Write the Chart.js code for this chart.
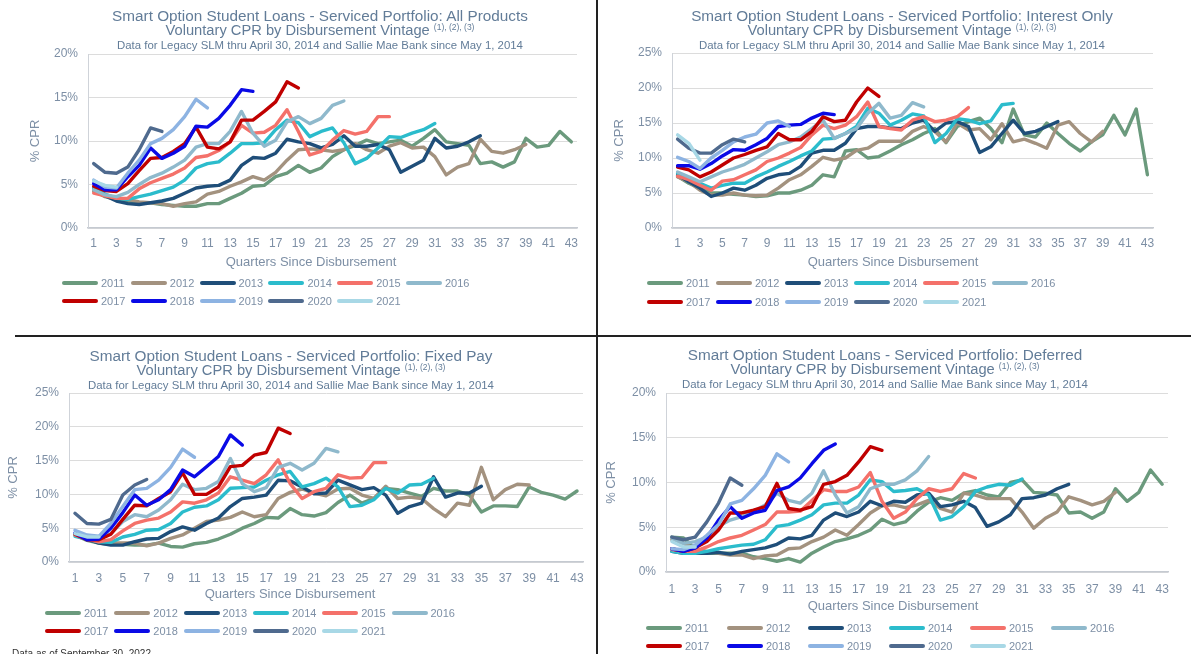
<!DOCTYPE html>
<html><head><meta charset="utf-8">
<script src="https://cdn.jsdelivr.net/npm/chart.js@4.4.1/dist/chart.umd.min.js"></script>
<style>
html,body{margin:0;padding:0;background:#fff;width:1191px;height:654px;overflow:hidden;position:relative;font-family:'Liberation Sans',Arial,sans-serif;}
canvas{position:absolute;}
.t{position:absolute;width:600px;text-align:center;color:#627c98;white-space:nowrap;}
.t1{font-size:15.3px;line-height:17px;}
.t2{font-size:14.7px;line-height:17px;}
.t3{font-size:11.4px;line-height:13px;}
sup{font-size:8.5px;vertical-align:5px;line-height:0;}
.xt{position:absolute;width:300px;text-align:center;color:#7d8fa5;font-size:13px;line-height:14px;}
.lg{position:absolute;font-size:11px;line-height:14px;color:#7d8fa5;white-space:nowrap;}
.lg .ln{display:inline-block;width:36px;height:4px;border-radius:2px;vertical-align:middle;margin-right:3px;position:relative;top:-1px;}
.vline{position:absolute;left:596px;top:0;width:2px;height:654px;background:#222;}
.hline{position:absolute;left:15px;top:335px;width:1176px;height:2px;background:#222;}
.foot{position:absolute;left:12px;top:648px;font-size:10px;color:#333;}
</style></head><body>
<canvas id="c1" width="597" height="275" style="left:0;top:0"></canvas>
<canvas id="c2" width="591" height="275" style="left:600px;top:0"></canvas>
<canvas id="c3" width="597" height="265" style="left:0;top:340px"></canvas>
<canvas id="c4" width="591" height="275" style="left:600px;top:340px"></canvas>
<div id="overlay"></div>
<div class="vline"></div><div class="hline"></div>
<div class="foot">Data as of September 30, 2022</div>
<script>
// ---- categories / labels ----
const quarters = ['1','2','3','4','5','6','7','8','9','10','11','12','13','14','15','16','17','18','19','20','21','22','23','24','25','26','27','28','29','30','31','32','33','34','35','36','37','38','39','40','41','42','43'];
const vintages = ['2011','2012','2013','2014','2015','2016','2017','2018','2019','2020','2021'];

// ---- All Products ----
const all2011 = [4.3,3.6,3.3,3.1,2.9,2.9,2.7,2.6,2.5,2.5,2.8,2.8,3.4,4.0,4.8,4.9,5.9,6.3,7.2,6.4,6.9,8.2,9.0,9.5,10.1,9.7,9.9,10.1,9.4,10.3,11.3,9.9,9.7,9.5,7.4,7.6,7.0,7.6,10.3,9.3,9.5,11.1,9.9];
const all2012 = [4.2,3.7,3.4,3.3,3.0,2.9,2.8,2.5,2.8,3.0,3.9,4.2,4.8,5.3,5.9,5.5,6.4,7.8,9.0,9.1,9.0,8.8,9.0,9.7,9.0,8.6,9.4,9.8,9.2,9.3,8.2,6.1,7.0,7.4,10.2,8.8,8.6,9.0,9.6];
const all2013 = [4.6,3.7,3.1,2.8,2.7,2.9,3.1,3.4,4.0,4.6,4.8,4.9,5.5,7.2,8.1,8.0,8.6,10.2,9.9,9.7,9.2,9.6,10.6,9.4,9.4,9.6,9.0,6.4,7.1,7.8,10.3,9.2,9.4,9.9,10.6];
const all2014 = [4.6,3.9,3.4,3.3,3.6,3.9,4.3,4.7,5.5,6.9,7.4,7.6,8.6,9.7,9.7,9.8,11.3,12.4,12.1,10.5,11.1,11.5,9.8,7.4,8.0,9.2,10.5,10.4,10.9,11.3,12.0];
const all2015 = [4.0,3.7,3.4,3.4,4.5,5.2,5.7,6.2,6.9,8.1,8.3,8.9,9.9,11.8,10.9,11.0,11.8,13.6,11.1,8.4,8.8,10.1,11.2,10.8,11.1,12.8,12.8];
const all2016 = [4.4,3.8,3.6,4.1,5.0,5.8,6.3,7.0,7.8,9.3,9.7,9.7,11.1,13.4,10.9,9.4,10.1,12.2,12.8,12.0,12.6,14.1,14.6];
const all2017 = [4.8,4.3,4.2,5.1,6.6,8.0,8.1,8.8,9.7,11.6,9.3,9.1,9.9,12.4,12.4,13.4,14.5,16.8,16.1];
const all2018 = [5.1,4.4,4.4,5.9,7.2,9.2,8.0,8.6,9.4,11.7,11.6,12.6,14.1,15.9,15.7];
const all2019 = [5.5,4.7,4.6,6.3,7.8,9.7,10.3,11.3,12.8,14.8,13.8];
const all2020 = [7.4,6.4,6.3,7.0,9.0,11.5,11.1];
const all2021 = [5.4,4.9,4.7];

// ---- Interest Only ----
const io2011 = [7.4,6.4,5.7,5.0,5.0,4.8,4.7,4.5,4.6,5.0,5.0,5.4,6.1,7.6,7.3,11.0,11.2,10.0,10.2,11.0,11.9,12.6,13.5,14.2,12.2,14.5,15.2,15.7,14.2,12.2,17.0,13.3,13.0,15.0,13.5,12.1,11.0,12.3,13.3,16.1,13.3,17.0,7.6];
const io2012 = [7.3,6.6,5.4,4.7,4.7,5.0,4.7,4.6,4.7,5.7,6.9,7.6,8.8,10.1,9.7,10.0,11.1,11.4,12.4,12.4,12.4,13.8,14.5,13.8,12.3,15.0,14.0,14.2,12.6,14.9,12.3,12.7,12.1,11.4,14.7,15.2,13.5,12.3,13.8];
const io2013 = [7.6,6.6,5.7,4.5,5.0,5.7,5.4,6.1,7.1,7.6,7.8,8.8,10.7,11.1,11.1,12.1,14.2,14.5,14.5,14.3,14.2,15.0,15.4,13.8,15.0,15.2,14.5,10.8,11.6,13.5,15.4,13.5,13.8,14.5,15.2];
const io2014 = [7.8,7.1,6.4,5.7,6.1,6.4,6.4,7.3,8.0,8.8,9.5,10.3,11.0,12.7,12.8,13.5,14.5,17.1,16.4,14.7,15.4,16.3,16.0,12.2,13.5,15.6,15.4,14.9,15.3,17.6,17.8];
const io2015 = [7.4,6.9,6.1,5.4,6.7,6.9,7.6,8.3,9.5,10.0,10.7,11.5,13.3,14.7,14.2,14.7,15.9,18.0,14.5,14.2,14.0,15.4,15.9,15.2,15.4,15.9,17.2];
const io2016 = [8.0,7.3,6.6,7.3,8.0,8.5,9.1,10.0,10.9,11.9,12.3,13.0,14.2,15.4,12.8,13.5,14.2,16.4,17.8,15.7,16.1,17.9,17.3];
const io2017 = [8.7,8.3,7.3,8.0,9.0,10.0,10.5,11.1,11.6,13.5,12.6,12.6,13.8,15.9,15.2,15.4,18.0,20.0,18.8];
const io2018 = [8.9,8.9,8.4,9.2,10.3,11.2,11.1,11.9,12.8,14.5,14.7,14.8,15.7,16.4,16.2];
const io2019 = [10.1,9.5,8.5,10.0,11.1,12.3,13.0,13.4,15.0,15.3,14.5];
const io2020 = [12.7,11.4,10.7,10.7,11.9,12.7,12.3];
const io2021 = [13.3,12.1,9.7];

// ---- Fixed Pay ----
const fp2011 = [4.0,3.2,2.8,2.6,2.6,2.5,2.5,2.8,2.3,2.2,2.7,2.9,3.4,4.1,5.0,5.7,6.6,6.5,7.9,7.0,6.8,7.3,8.8,9.9,8.7,9.4,10.9,10.7,10.2,9.7,10.9,10.5,10.5,9.9,7.4,8.3,8.3,8.2,11.1,10.3,9.9,9.3,10.5];
const fp2012 = [4.1,3.3,2.9,2.8,2.8,2.8,2.4,2.8,3.5,4.0,5.0,6.0,6.2,6.6,7.4,6.7,7.0,9.4,10.3,10.8,10.2,9.8,10.8,10.9,9.9,9.4,11.2,9.4,9.6,9.4,7.9,6.7,8.7,8.4,14.0,9.2,10.7,11.5,11.4];
const fp2013 = [4.1,3.4,2.8,2.5,2.5,3.0,3.4,3.5,4.5,5.2,4.7,5.7,6.5,8.2,9.4,9.6,9.9,12.1,12.0,11.1,10.1,10.2,12.1,11.4,10.7,11.0,9.9,7.2,8.2,8.7,12.6,9.6,10.2,10.2,11.2];
const fp2014 = [3.8,3.4,3.0,2.9,3.7,4.1,4.7,4.8,5.7,7.4,8.1,8.3,9.2,10.9,11.0,11.1,12.1,12.9,13.4,11.1,11.6,12.4,11.1,8.2,8.4,9.2,10.9,10.2,11.4,11.5,12.4];
const fp2015 = [4.0,3.4,3.0,3.3,4.6,5.7,6.2,6.5,7.4,8.9,8.7,9.2,10.2,12.6,12.1,11.6,12.9,15.1,11.6,9.4,10.4,10.9,12.9,12.4,12.5,14.7,14.7];
const fp2016 = [4.2,3.5,3.4,4.2,6.0,7.0,6.7,7.7,9.2,11.5,10.7,10.9,11.9,15.3,11.6,10.4,11.0,14.0,14.6,13.6,14.6,16.8,16.3];
const fp2017 = [4.1,3.3,3.3,4.1,6.3,8.4,8.3,9.4,10.4,13.2,10.0,10.0,11.1,14.1,14.3,15.8,16.2,19.8,19.0];
const fp2018 = [4.3,3.3,3.4,5.0,7.3,9.9,8.4,9.2,10.7,13.6,12.6,14.1,15.6,18.8,17.3];
const fp2019 = [4.7,4.0,3.8,5.7,8.2,10.7,10.9,12.1,14.0,16.7,15.5];
const fp2020 = [7.2,5.7,5.6,6.3,9.9,11.4,12.2];
const fp2021 = [4.2,3.7,3.7];

// ---- Deferred ----
const df2011 = [3.9,3.8,2.6,2.1,2.1,2.1,2.1,1.7,1.5,1.2,1.5,1.1,2.1,2.8,3.4,3.7,4.1,4.7,5.9,5.3,5.6,6.8,7.8,8.3,8.0,8.8,9.1,8.6,8.4,10.0,10.3,8.9,8.8,8.6,6.6,6.7,6.0,6.7,9.3,7.9,8.9,11.4,9.8];
const df2012 = [3.6,3.2,2.6,2.3,2.1,1.9,1.9,1.5,1.8,1.9,2.6,2.7,3.4,3.9,4.7,4.1,5.3,6.6,7.4,7.5,7.2,7.5,8.0,7.1,6.7,8.8,8.6,8.2,8.2,8.2,6.7,4.9,6.0,6.7,8.4,8.0,7.5,7.9,8.9];
const df2013 = [2.3,2.1,2.1,2.1,2.2,2.0,2.3,2.5,2.7,3.1,3.8,3.7,4.1,5.8,6.6,6.2,6.7,7.9,7.4,7.9,7.8,8.6,8.8,7.3,7.5,7.9,7.2,5.1,5.6,6.4,8.2,8.3,8.6,9.3,9.8];
const df2014 = [2.3,2.1,2.1,2.3,2.6,2.8,3.0,3.1,3.6,5.1,5.3,5.8,6.4,7.5,7.7,7.7,8.6,10.3,10.1,9.0,9.1,9.3,8.6,5.8,6.2,7.3,9.0,9.5,9.8,9.7,10.4];
const df2015 = [2.5,2.3,2.3,2.8,3.4,3.8,4.1,4.7,5.3,6.7,6.7,6.8,8.0,9.2,9.0,9.0,9.5,11.1,7.9,6.0,6.7,8.2,9.3,9.0,9.3,11.0,10.5];
const df2016 = [3.8,3.2,3.4,3.9,5.1,5.8,6.2,6.8,7.5,8.8,8.0,7.7,8.8,11.3,8.6,6.6,7.3,9.3,9.8,9.8,10.3,11.3,12.9];
const df2017 = [2.6,2.3,2.7,3.4,4.7,6.6,6.6,6.9,7.3,9.9,7.1,6.9,7.3,9.8,10.1,10.8,12.3,14.0,13.6];
const df2018 = [2.6,2.3,2.7,3.8,5.8,7.3,6.0,6.6,6.9,9.1,9.5,10.5,12.1,13.6,14.3];
const df2019 = [2.6,2.5,3.0,4.1,5.3,7.6,8.0,9.3,10.8,13.2,12.3];
const df2020 = [3.9,3.6,3.9,5.6,7.7,10.5,9.7];
const df2021 = [3.4,2.8,2.8];

// ---- styles ----
const colors = ['#6b9a7d','#a3927f','#1f4e79','#2bbccc','#f4716a','#8fb9cc','#c00000','#0a0ae6','#8db3e2','#4f6a8e','#a8d8e6'];
const tickColor = '#7d8fa5';
Chart.defaults.font.family = "'Liberation Sans', Arial, sans-serif";

const panels = [
  {id:'c1', series:[all2011,all2012,all2013,all2014,all2015,all2016,all2017,all2018,all2019,all2020,all2021],
   ymax:20, yW:88, padRight:20, top:54, xH:47, xPad:8, ytPad:28,
   title:'Smart Option Student Loans - Serviced Portfolio: All Products', cx:320, ty:7,
   xtx:311, xty:255, lgx:62, lgy:[276,294], pitch:68.8},
  {id:'c2', series:[io2011,io2012,io2013,io2014,io2015,io2016,io2017,io2018,io2019,io2020,io2021],
   ymax:25, yW:72, padRight:38, top:53, xH:47, xPad:8, ytPad:12,
   title:'Smart Option Student Loans - Serviced Portfolio: Interest Only', cx:902, ty:7,
   xtx:893, xty:255, lgx:647, lgy:[276,295], pitch:69},
  {id:'c3', series:[fp2011,fp2012,fp2013,fp2014,fp2015,fp2016,fp2017,fp2018,fp2019,fp2020,fp2021],
   ymax:25, yW:69, padRight:14, top:53, xH:43, xPad:9, ytPad:6,
   title:'Smart Option Student Loans - Serviced Portfolio: Fixed Pay', cx:291, ty:347,
   xtx:290, xty:587, lgx:45, lgy:[606,624], pitch:69.3},
  {id:'c4', series:[df2011,df2012,df2013,df2014,df2015,df2016,df2017,df2018,df2019,df2020,df2021],
   ymax:20, yW:66, padRight:23, top:53, xH:43, xPad:10, ytPad:4,
   title:'Smart Option Student Loans - Serviced Portfolio: Deferred', cx:885, ty:346,
   xtx:893, xty:599, lgx:646, lgy:[621,639], pitch:81}
];

let html = '';
panels.forEach(p => {
  html += `<div class="t t1" style="left:${p.cx-300}px;top:${p.ty}px">${p.title}</div>`;
  html += `<div class="t t2" style="left:${p.cx-300}px;top:${p.ty+15}px">Voluntary CPR by Disbursement Vintage <sup>(1), (2), (3)</sup></div>`;
  html += `<div class="t t3" style="left:${p.cx-300}px;top:${p.ty+32}px">Data for Legacy SLM thru April 30, 2014 and Sallie Mae Bank since May 1, 2014</div>`;
  html += `<div class="xt" style="left:${p.xtx-150}px;top:${p.xty}px">Quarters Since Disbursement</div>`;
  vintages.forEach((v,i) => {
    const row = i < 6 ? 0 : 1, col = i < 6 ? i : i-6;
    html += `<div class="lg" style="left:${(p.lgx + col*p.pitch).toFixed(1)}px;top:${p.lgy[row]}px"><span class="ln" style="background:${colors[i]}"></span>${v}</div>`;
  });

  new Chart(document.getElementById(p.id), {
    type:'line',
    data:{labels:quarters, datasets:p.series.map((d,i)=>({
      label:vintages[i], data:d, borderColor:colors[i], backgroundColor:colors[i],
      borderWidth:3.4, pointRadius:0, pointHoverRadius:0, tension:0, fill:false,
      borderJoinStyle:'round', borderCapStyle:'round', order:p.series.length-i}))},
    options:{
      responsive:false, animation:false, devicePixelRatio:1,
      layout:{padding:{left:0,right:p.padRight,top:p.top,bottom:0}},
      plugins:{legend:{display:false}, tooltip:{enabled:false}, title:{display:false}},
      scales:{
        x:{type:'category', offset:true,
           grid:{display:false, drawTicks:false},
           border:{display:true, color:'#c5cad1', width:1.5},
           ticks:{autoSkip:false, maxRotation:0, minRotation:0, padding:p.xPad, color:tickColor, font:{size:12},
                  callback:function(v,i){return i%2===0 ? this.getLabelForValue(v) : '';}},
           afterFit:s=>{s.height=p.xH;}},
        y:{min:0, max:p.ymax,
           grid:{color:'#dcdcdc', drawTicks:false},
           border:{display:true, color:'#cfd3d9'},
           ticks:{stepSize:5, padding:10, color:tickColor, font:{size:12}, callback:v=>v+'%'},
           title:{display:true, text:'% CPR', color:tickColor, font:{size:13}, padding:{top:p.ytPad,bottom:0}},
           afterFit:s=>{s.width=p.yW;}}
      }
    }
  });
});
document.getElementById('overlay').innerHTML = html;
</script>
</body></html>
